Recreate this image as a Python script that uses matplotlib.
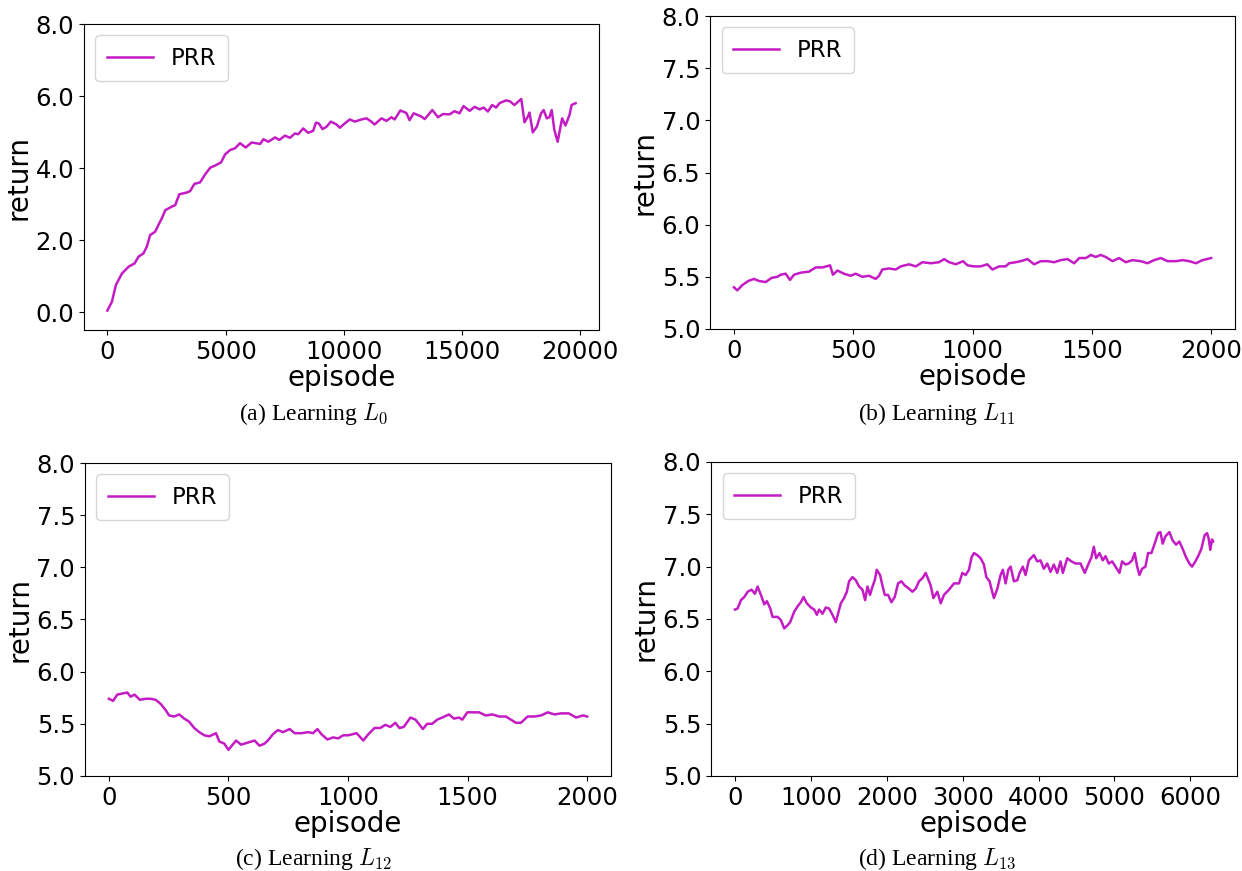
import matplotlib
matplotlib.use("Agg")
import matplotlib.pyplot as plt
from matplotlib.ticker import FormatStrFormatter

# values
ep_a = [0, 194, 360, 616, 900, 1150, 1320, 1530, 1670, 1810, 2020, 2160, 2300, 2450,
        2730, 2870, 3040, 3360, 3500, 3680, 3920, 4130, 4350, 4560, 4810, 4980, 5190,
        5400, 5610, 5850, 6100, 6460, 6600, 6810, 7090, 7270, 7510, 7720, 7930, 8070,
        8280, 8490, 8700, 8820, 8940, 9100, 9270, 9450, 9690, 9830, 10040, 10250, 10460,
        10750, 10960, 11160, 11300, 11590, 11800, 12010, 12150, 12390, 12640, 12780,
        12950, 13280, 13420, 13740, 13980, 14190, 14470, 14680, 14890, 15060, 15320,
        15530, 15740, 15910, 16090, 16270, 16440, 16580, 16860, 17030, 17210, 17500,
        17540, 17640, 17780, 17850, 17990, 18160, 18340, 18450, 18580, 18690, 18790,
        18900, 19040, 19230, 19370, 19540, 19630, 19720, 19800]
ret_a = [0.04, 0.29, 0.75, 1.07, 1.26, 1.35, 1.54, 1.63, 1.82, 2.14, 2.23, 2.42, 2.60, 2.83,
         2.93, 2.97, 3.27, 3.32, 3.36, 3.56, 3.60, 3.82, 4.01, 4.07, 4.16, 4.38, 4.50,
         4.55, 4.69, 4.57, 4.71, 4.67, 4.80, 4.73, 4.85, 4.78, 4.90, 4.84, 4.96, 4.94,
         5.10, 4.98, 5.03, 5.26, 5.24, 5.08, 5.15, 5.29, 5.21, 5.12, 5.24, 5.35, 5.29,
         5.35, 5.38, 5.29, 5.21, 5.38, 5.31, 5.41, 5.35, 5.60, 5.53, 5.33,
         5.52, 5.43, 5.36, 5.61, 5.41, 5.50, 5.49, 5.58, 5.52, 5.72, 5.59,
         5.70, 5.63, 5.68, 5.57, 5.75, 5.68, 5.80, 5.88, 5.85, 5.75, 5.92,
         5.75, 5.27, 5.43, 5.54, 4.99, 5.15, 5.52, 5.61, 5.38, 5.41, 5.61,
         5.06, 4.73, 5.38, 5.18, 5.47, 5.75, 5.78, 5.80]

ep_b = [0, 14, 35, 60, 84, 105, 133, 158, 182, 196, 217, 235, 252, 280, 315, 343, 371, 403,
        415, 434, 461, 489, 510, 538, 566, 594, 608, 622, 650, 678, 699, 734, 762, 790,
        825, 860, 881, 902, 930, 960, 979, 1006, 1034, 1062, 1083, 1111, 1139, 1153,
        1181, 1202, 1230, 1258, 1286, 1314, 1342, 1370, 1398, 1426, 1447, 1475, 1496,
        1516, 1537, 1558, 1587, 1614, 1642, 1670, 1705, 1733, 1761, 1789, 1817, 1852,
        1880, 1908, 1936, 1964, 2000]
ret_b = [5.40, 5.37, 5.42, 5.46, 5.48, 5.46, 5.45, 5.49, 5.50, 5.52, 5.53, 5.47, 5.52, 5.54,
         5.55, 5.59, 5.59, 5.61, 5.52, 5.56, 5.53, 5.51, 5.53, 5.50, 5.51, 5.48, 5.51,
         5.57, 5.58, 5.57, 5.60, 5.62, 5.60, 5.64, 5.63, 5.64, 5.67, 5.64, 5.62, 5.65,
         5.61, 5.60, 5.60, 5.62, 5.57, 5.60, 5.60, 5.63, 5.64, 5.65, 5.67, 5.62, 5.65,
         5.65, 5.64, 5.66, 5.67, 5.63, 5.68, 5.68, 5.71, 5.69, 5.71, 5.69, 5.65, 5.68,
         5.64, 5.66, 5.65, 5.63, 5.66, 5.68, 5.65, 5.65, 5.66, 5.65, 5.63, 5.66, 5.68]

ep_c = [0, 18, 35, 56, 77, 91, 107, 130, 153, 175, 196, 217, 238, 252, 273, 294, 315, 336,
        357, 378, 399, 420, 448, 462, 483, 500, 514, 532, 553, 581, 609, 630, 651, 665,
        686, 707, 728, 756, 777, 805, 833, 854, 872, 889, 914, 938, 959, 980, 1001, 1036,
        1064, 1085, 1111, 1135, 1156, 1177, 1198, 1215, 1233, 1261, 1282, 1296, 1313,
        1331, 1352, 1373, 1394, 1422, 1443, 1464, 1478, 1499, 1520, 1548, 1576, 1604,
        1632, 1660, 1681, 1702, 1723, 1751, 1779, 1807, 1835, 1863, 1891, 1923, 1954,
        1982, 2000]
ret_c = [5.74, 5.72, 5.78, 5.79, 5.80, 5.76, 5.78, 5.73, 5.74, 5.74, 5.73, 5.69, 5.63, 5.58,
         5.57, 5.59, 5.55, 5.52, 5.46, 5.42, 5.39, 5.38, 5.41, 5.33, 5.31, 5.25, 5.29,
         5.34, 5.30, 5.32, 5.34, 5.29, 5.31, 5.34, 5.40, 5.44, 5.42, 5.45, 5.41, 5.41,
         5.42, 5.41, 5.45, 5.40, 5.35, 5.37, 5.36, 5.39, 5.39, 5.41, 5.34, 5.40, 5.46,
         5.46, 5.49, 5.47, 5.51, 5.46, 5.47, 5.56, 5.54, 5.50, 5.45, 5.50, 5.50, 5.54,
         5.56, 5.59, 5.55, 5.56, 5.54, 5.61, 5.61, 5.61, 5.58, 5.59, 5.57, 5.57, 5.54,
         5.51, 5.51, 5.57, 5.57, 5.58, 5.61, 5.59, 5.60, 5.60, 5.56, 5.58, 5.57]

ep_d = [0, 35, 79, 123, 167, 219, 263, 298, 342, 386, 421, 465, 496, 562, 605, 649, 693,
        728, 781, 825, 868, 904, 947, 1000, 1044, 1079, 1109, 1154, 1197, 1241, 1285,
        1329, 1359, 1395, 1438, 1474, 1504, 1548, 1592, 1636, 1680, 1715, 1746, 1780,
        1812, 1842, 1868, 1912, 1943, 1974, 2017, 2062, 2105, 2149, 2193, 2237, 2293,
        2338, 2382, 2425, 2470, 2513, 2557, 2579, 2614, 2667, 2711, 2754, 2820, 2886,
        2952, 2996, 3039, 3083, 3118, 3149, 3193, 3237, 3280, 3312, 3355, 3382, 3412,
        3457, 3500, 3530, 3566, 3601, 3632, 3675, 3720, 3750, 3793, 3829, 3872, 3938,
        3983, 4026, 4070, 4114, 4158, 4201, 4246, 4289, 4320, 4378, 4434, 4487, 4553,
        4609, 4654, 4697, 4728, 4759, 4803, 4846, 4882, 4925, 4970, 5013, 5066, 5101,
        5145, 5188, 5233, 5267, 5299, 5329, 5364, 5408, 5443, 5487, 5530, 5575, 5605,
        5636, 5671, 5724, 5767, 5812, 5855, 5899, 5943, 5987, 6022, 6066, 6109, 6145,
        6188, 6220, 6241, 6263, 6285, 6300]
ret_d = [6.59, 6.60, 6.68, 6.71, 6.76, 6.78, 6.74, 6.81, 6.73, 6.64, 6.67, 6.60, 6.52, 6.52,
         6.49, 6.41, 6.44, 6.47, 6.57, 6.62, 6.66, 6.71, 6.65, 6.61, 6.59, 6.54, 6.59,
         6.55, 6.61, 6.60, 6.54, 6.47, 6.55, 6.65, 6.70, 6.76, 6.86, 6.90, 6.87, 6.81,
         6.78, 6.68, 6.81, 6.73, 6.81, 6.87, 6.97, 6.92, 6.82, 6.73, 6.73, 6.66, 6.71,
         6.84, 6.86, 6.82, 6.79, 6.76, 6.79, 6.86, 6.89, 6.94, 6.86, 6.82, 6.70, 6.76,
         6.65, 6.73, 6.78, 6.84, 6.84, 6.94, 6.92, 6.97, 7.09, 7.13, 7.11, 7.08, 7.02,
         6.90, 6.86, 6.78, 6.70, 6.79, 6.92, 6.97, 6.84, 6.97, 7.00, 6.86, 6.87, 6.94,
         7.00, 6.92, 7.06, 7.11, 7.05, 7.06, 6.98, 7.03, 6.95, 7.02, 6.94, 7.05, 6.94,
         7.08, 7.05, 7.03, 7.03, 6.94, 7.02, 7.09, 7.19, 7.08, 7.13, 7.06, 7.10, 7.03,
         7.05, 7.00, 6.94, 7.05, 7.02, 7.03, 7.06, 7.13, 7.00, 6.92, 6.98, 7.00, 7.13,
         7.13, 7.22, 7.32, 7.33, 7.22, 7.29, 7.33, 7.25, 7.21, 7.24, 7.17, 7.09, 7.03,
         7.00, 7.05, 7.11, 7.17, 7.30, 7.32, 7.27, 7.16, 7.26, 7.24]

captions = ["(a) Learning $L_0$", "(b) Learning $L_{11}$",
            "(c) Learning $L_{12}$", "(d) Learning $L_{13}$"]

plt.rcParams['mathtext.fontset'] = 'cm'

fig = plt.figure(figsize=(12.42, 8.71), dpi=100)

# [left, bottom, width, height] of each panel, measured from the page
rects = [
    [0.0676, 0.6211, 0.4147, 0.3513],
    [0.5717, 0.6223, 0.4227, 0.3593],
    [0.0684, 0.1091, 0.4236, 0.3593],
    [0.5725, 0.1091, 0.4235, 0.3605],
]
cap_pos = [(0.252, 0.525), (0.754, 0.525), (0.2525, 0.014), (0.7544, 0.014)]

series = [(ep_a, ret_a), (ep_b, ret_b), (ep_c, ret_c), (ep_d, ret_d)]

for i, (xs, ys) in enumerate(series):
    ax = fig.add_axes(rects[i])
    ax.plot(xs, ys, color='#c41cc4', lw=1.8, label='PRR')
    if i == 0:
        ax.set_ylim(-0.5, 8.0)
        ax.set_yticks([0, 2, 4, 6, 8])
    else:
        ax.set_ylim(5.0, 8.0)
        ax.set_yticks([5.0, 5.5, 6.0, 6.5, 7.0, 7.5, 8.0])
    ax.yaxis.set_major_formatter(FormatStrFormatter('%.1f'))
    ax.tick_params(labelsize=17.5)
    ax.set_xlabel('episode', fontsize=20, labelpad=0)
    ax.set_ylabel('return', fontsize=20, labelpad=2)
    ax.legend(loc='upper left', fontsize=16.5, borderpad=0.5)
    fig.text(cap_pos[i][0], cap_pos[i][1], captions[i], ha='center', va='center',
             fontsize=17, family='Liberation Serif')

fig.savefig('out.png', dpi=100)
